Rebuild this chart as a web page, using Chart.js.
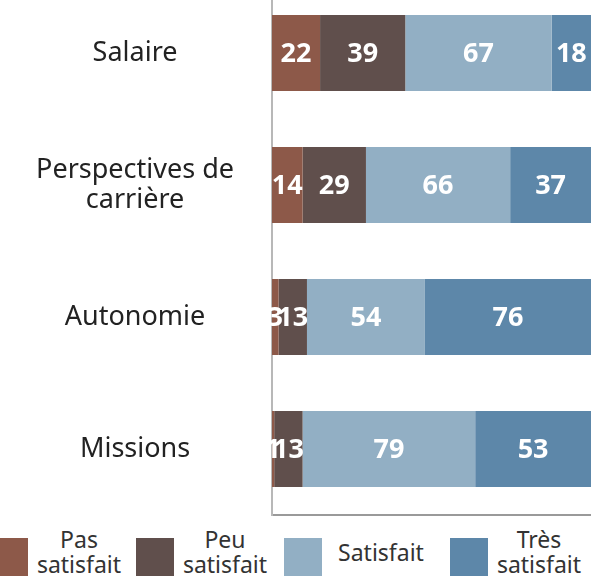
<!DOCTYPE html>
<html>
<head>
<meta charset="utf-8">
<script src="https://cdn.jsdelivr.net/npm/chart.js@4"></script>
<style>
  html, body { margin: 0; padding: 0; background: #fff; overflow: hidden; }
  body { width: 591px; height: 576px; position: relative; font-family: "Noto Sans", sans-serif; }
  #wrap { position: absolute; left: 0; top: -13px; width: 591px; height: 530px; }
  #legend { position: absolute; left: 0; top: 527px; width: 591px; height: 50px; color: #333; font-size: 23px; }
  .item { position: absolute; top: 0; height: 50px; display: flex; align-items: center; }
  .box { width: 38px; height: 38px; margin-top: 10px; }
  .txt { width: 94px; text-align: center; line-height: 25px; margin-left: 4px; }
</style>
</head>
<body>
<div id="wrap"><canvas id="chart" width="591" height="530"></canvas></div>
<div id="legend"></div>
<script>
// Satisfaction par critère (effectifs)
const categories = ['Salaire', ['Perspectives de', 'carrière'], 'Autonomie', 'Missions'];
const seriesNames = [['Pas', 'satisfait'], ['Peu', 'satisfait'], ['Satisfait'], ['Très', 'satisfait']];
const pasSatisfait = [22, 14, 3, 1];
const peuSatisfait = [39, 29, 13, 13];
const satisfait = [67, 66, 54, 79];
const tresSatisfait = [18, 37, 76, 53];
const colors = ['#8d5949', '#604f4c', '#92afc4', '#5d87a9'];

const seriesValues = [pasSatisfait, peuSatisfait, satisfait, tresSatisfait];

// white numbers in the middle of each segment
const valueLabels = {
  id: 'valueLabels',
  afterDatasetsDraw(chart) {
    const ctx = chart.ctx;
    ctx.save();
    ctx.font = 'bold 27px "Noto Sans"';
    ctx.fillStyle = '#fff';
    ctx.textAlign = 'center';
    ctx.textBaseline = 'middle';
    chart.data.datasets.forEach((ds, i) => {
      chart.getDatasetMeta(i).data.forEach((bar, j) => {
        const p = bar.getCenterPoint();
        ctx.fillText(ds.data[j], p.x, p.y + 1);
      });
    });
    ctx.restore();
  }
};

const ctx = document.getElementById('chart').getContext('2d');
new Chart(ctx, {
  type: 'bar',
  data: {
    labels: categories,
    datasets: seriesValues.map((vals, i) => ({
      label: seriesNames[i].join(' '),
      data: vals,
      backgroundColor: colors[i],
      borderWidth: 0,
      categoryPercentage: 1,
      barPercentage: 0.576
    }))
  },
  options: {
    indexAxis: 'y',
    responsive: false,
    animation: false,
    layout: { padding: 0 },
    plugins: {
      legend: { display: false },
      tooltip: { enabled: false }
    },
    scales: {
      x: {
        stacked: true,
        min: 0,
        max: 146,
        grid: { display: false },
        ticks: { display: false },
        border: { display: true, color: '#9a9a9a', width: 2 },
        afterFit: scale => {
          scale.height = 2;
          scale.paddingLeft = 0;
          scale.paddingRight = 0;
        }
      },
      y: {
        stacked: true,
        grid: { display: false },
        border: { display: true, color: '#b8b8b8', width: 2 },
        afterFit: scale => {
          scale.width = 272;
          scale.paddingTop = 0;
          scale.paddingBottom = 0;
        },
        ticks: {
          color: '#222',
          crossAlign: 'center',
          padding: 30,
          font: { family: 'Noto Sans', size: 27, lineHeight: 1.1 }
        }
      }
    }
  },
  plugins: [valueLabels]
});

// legend as html so that two-line labels stay centred
const legend = document.getElementById('legend');
const itemLeft = [-10, 136, 284, 450];
const textGap = [4, 4, 12, 4];
seriesNames.forEach((name, i) => {
  const item = document.createElement('div');
  item.className = 'item';
  item.style.left = itemLeft[i] + 'px';
  item.innerHTML = '<div class="box" style="background:' + colors[i] + '"></div>' +
    '<div class="txt" style="margin-left:' + textGap[i] + 'px">' + name.join('<br>') + '</div>';
  legend.appendChild(item);
});
</script>
</body>
</html>
